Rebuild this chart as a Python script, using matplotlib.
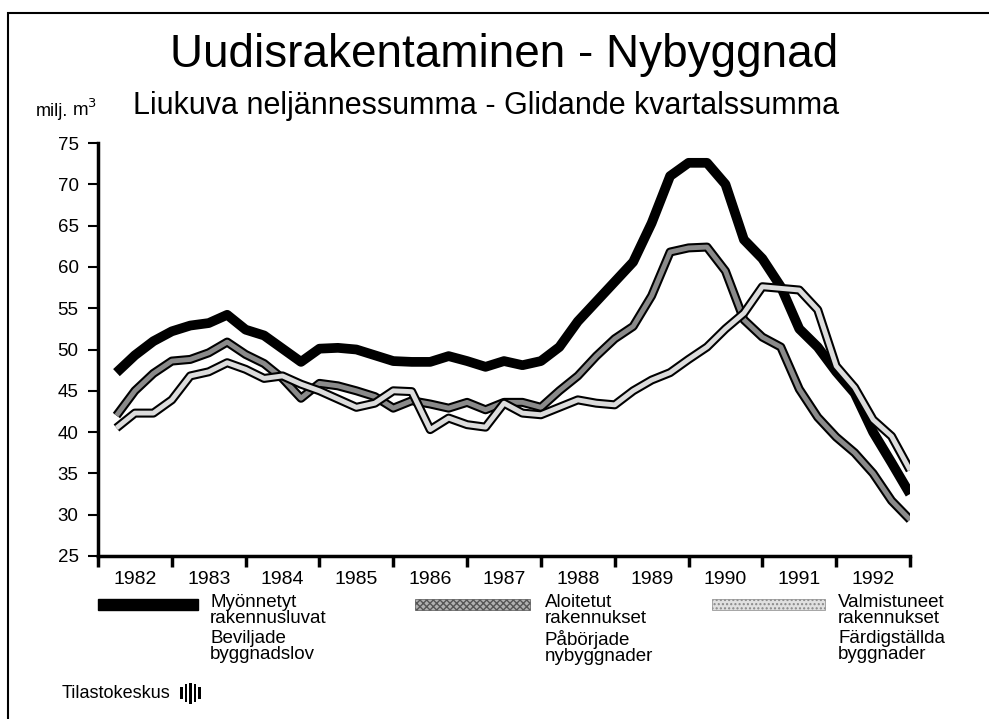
import matplotlib
matplotlib.use('Agg')
import matplotlib.pyplot as plt
from matplotlib.patches import Rectangle

# quarterly moving 4-quarter sums, 1982Q1 .. 1992Q4 (milj. m3)
quarters = [1982 + (i + 1) / 4 for i in range(44)]

permits = [47.2, 49.3, 51.0, 52.2, 52.9, 53.2, 54.2, 52.4, 51.7, 50.1, 48.5,
           50.1, 50.2, 50.0, 49.3, 48.6, 48.5, 48.5, 49.2, 48.6, 47.9, 48.6,
           48.1, 48.6, 50.3, 53.4, 55.8, 58.2, 60.6, 65.3, 71.0, 72.6, 72.6,
           70.0, 63.3, 61.0, 57.6, 52.5, 50.3, 47.3, 44.7, 40.0, 36.3, 32.5]

started = [42.0, 45.0, 47.1, 48.6, 48.8, 49.6, 50.9, 49.4, 48.3, 46.5, 44.1,
           45.9, 45.6, 45.0, 44.3, 42.9, 43.8, 43.4, 42.9, 43.6, 42.7, 43.6,
           43.6, 43.0, 45.0, 46.8, 49.2, 51.3, 52.8, 56.5, 61.8, 62.3, 62.4,
           59.5, 53.6, 51.5, 50.3, 45.2, 41.8, 39.4, 37.5, 35.0, 31.7, 29.4]

completed = [40.5, 42.3, 42.3, 43.9, 46.8, 47.3, 48.4, 47.6, 46.5, 46.8, 45.8,
             45.0, 44.0, 43.0, 43.5, 45.0, 44.9, 40.3, 41.7, 40.9, 40.6, 43.5,
             42.3, 42.1, 43.0, 43.9, 43.5, 43.3, 45.0, 46.3, 47.2, 48.8, 50.3,
             52.5, 54.4, 57.6, 57.4, 57.2, 54.8, 48.0, 45.4, 41.5, 39.5, 35.4]

years = list(range(1982, 1993))
yticks = list(range(25, 80, 5))

W, H = 989, 719
plt.rcParams['font.family'] = ['Liberation Sans', 'DejaVu Sans']


def px(x, y):
    # pixel position -> figure fraction
    return x / W, 1 - y / H


fig = plt.figure(figsize=(W / 100, H / 100), dpi=100)
ax = fig.add_axes([98 / W, 1 - 556 / H, (910 - 98) / W, (556 - 143) / H])

# lines: solid black, then two outlined lines with grey / light fill
ax.plot(quarters, permits, color='black', lw=7, solid_capstyle='butt', zorder=3)
ax.plot(quarters, started, color='black', lw=6.5, solid_capstyle='butt', zorder=4)
ax.plot(quarters, started, color='#8a8a8a', lw=3.5, solid_capstyle='butt', zorder=5)
ax.plot(quarters, completed, color='black', lw=6.5, solid_capstyle='butt', zorder=6)
ax.plot(quarters, completed, color='#dcdcdc', lw=3.5, solid_capstyle='butt', zorder=7)

ax.set_xlim(1982, 1993)
ax.set_ylim(25, 75)
for s in ['top', 'right']:
    ax.spines[s].set_visible(False)
for s in ['left', 'bottom']:
    ax.spines[s].set_linewidth(2.5)

ax.set_yticks(yticks)
ax.tick_params(axis='y', direction='out', length=7, width=1.5, pad=7, labelsize=13.5)
ax.set_xticks(years + [1993])
ax.set_xticklabels([])
ax.set_xticks([y + 0.5 for y in years], minor=True)
ax.set_xticklabels([str(y) for y in years], minor=True)
ax.tick_params(axis='x', which='major', direction='out', length=8, width=2.5)
ax.tick_params(axis='x', which='minor', length=0, pad=11, labelsize=14)

# titles
fig.text(*px(504, 55), 'Uudisrakentaminen - Nybyggnad', fontsize=33,
         ha='center', va='center')
fig.text(*px(36, 111), 'milj.', fontsize=13, ha='left', va='center')
fig.text(*px(72, 109), 'm$^3$', fontsize=13.5, ha='left', va='center')
fig.text(*px(133, 106), 'Liukuva neljännessumma - Glidande kvartalssumma',
         fontsize=22, ha='left', va='center')

# legend
fig.add_artist(Rectangle(px(98, 610), 100 / W, 11 / H, transform=fig.transFigure,
                         facecolor='black', edgecolor='black'))
fig.add_artist(Rectangle(px(415, 610), 115 / W, 11 / H, transform=fig.transFigure,
                         facecolor='#b0b0b0', edgecolor='#555555', hatch='xxxxx', lw=0.5))
fig.add_artist(Rectangle(px(712, 610), 113 / W, 11 / H, transform=fig.transFigure,
                         facecolor='#e0e0e0', edgecolor='#888888', hatch='....', lw=0.5))

legend_items = [
    (210, 'Myönnetyt\nrakennusluvat', 'Beviljade\nbyggnadslov'),
    (545, 'Aloitetut\nrakennukset', 'Påbörjade\nnybyggnader'),
    (838, 'Valmistuneet\nrakennukset', 'Färdigställda\nbyggnader'),
]
for x, fi, sv in legend_items:
    fig.text(*px(x, 594), fi, fontsize=13.5, ha='left', va='top', linespacing=0.9)
    fig.text(*px(x, 630), sv, fontsize=13.5, ha='left', va='top', linespacing=0.9)

# source with small logo
fig.text(*px(62, 693), 'Tilastokeskus', fontsize=13, ha='left', va='center')
for dx, h in [(0, 12), (4.5, 18), (9, 21), (13.5, 18), (18, 12)]:
    fig.add_artist(Rectangle(px(180 + dx, 693 + h / 2), 2.8 / W, h / H,
                             transform=fig.transFigure, facecolor='black', lw=0))

# outer frame
fig.add_artist(Rectangle(px(8, 760), 1.2, (760 - 13) / H, transform=fig.transFigure,
                         fill=False, edgecolor='black', lw=1.5))

fig.savefig('out.png', dpi=100)
